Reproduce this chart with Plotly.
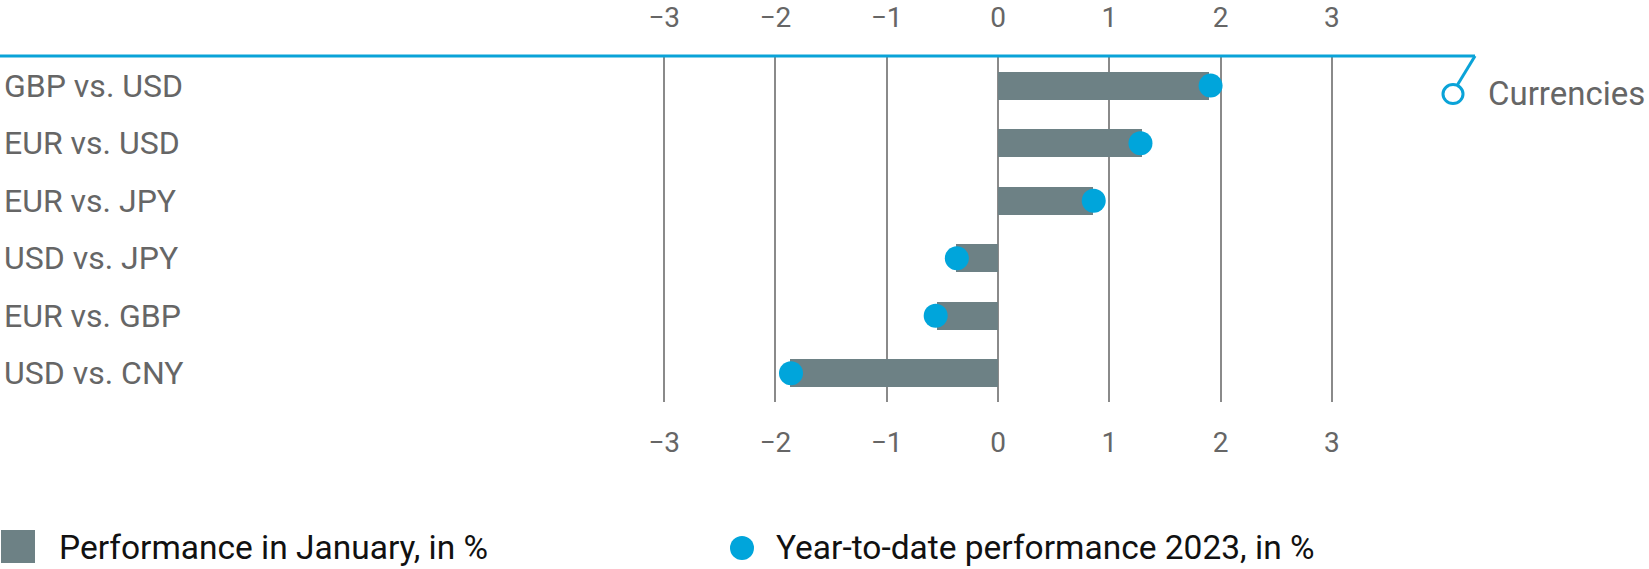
import plotly.graph_objects as go

# ---------------------------------------------------------------------------
# Data
# ---------------------------------------------------------------------------
pairs = ["GBP vs. USD", "EUR vs. USD", "EUR vs. JPY", "USD vs. JPY", "EUR vs. GBP", "USD vs. CNY"]
perf_january = [1.90, 1.29, 0.85, -0.38, -0.55, -1.87]
perf_ytd = [1.91, 1.28, 0.86, -0.37, -0.56, -1.86]
tick_vals = [-3, -2, -1, 0, 1, 2, 3]
tick_text = ["\u22123", "\u22122", "\u22121", "0", "1", "2", "3"]

BAR_COLOR = "#6d8185"
DOT_COLOR = "#00a5db"
LINE_COLOR = "#0aa3d8"
GRID_COLOR = "#8a8a8a"
TEXT_GRAY = "#666666"
FONT = "Roboto"

W, H = 1649, 569
PLOT_TOP, PLOT_BOTTOM = 56, 402
X_RANGE = [-8.967, 5.849]
Y_RANGE = [5.5, -0.515]

fig = go.Figure()

fig.add_trace(go.Bar(
    x=perf_january, y=pairs, orientation="h",
    width=0.487, marker=dict(color=BAR_COLOR, line=dict(width=0)),
    name="Performance in January, in %", showlegend=False,
))
fig.add_trace(go.Scatter(
    x=perf_ytd, y=pairs, mode="markers",
    marker=dict(color=DOT_COLOR, size=24, line=dict(width=0)),
    name="Year-to-date performance 2023, in %", showlegend=False,
))
# invisible trace to activate the top axis
fig.add_trace(go.Scatter(x=[0], y=[pairs[0]], xaxis="x2", mode="markers",
                         marker=dict(opacity=0), showlegend=False, hoverinfo="skip"))

axis_common = dict(
    range=X_RANGE, tickvals=tick_vals, ticktext=tick_text,
    zeroline=False, showline=False, ticks="",
    tickfont=dict(family=FONT, size=28, color=TEXT_GRAY),
)

fig.update_layout(
    width=W, height=H,
    margin=dict(l=0, r=0, t=PLOT_TOP, b=H - PLOT_BOTTOM),
    paper_bgcolor="white", plot_bgcolor="white",
    font=dict(family=FONT, color=TEXT_GRAY),
    xaxis=dict(**axis_common, side="bottom", ticklabelstandoff=21,
               showgrid=True, gridcolor=GRID_COLOR, gridwidth=1.5),
    xaxis2=dict(**axis_common, side="top", overlaying="x", matches="x",
                ticklabelstandoff=22, showgrid=False),
    yaxis=dict(type="category", categoryarray=pairs, range=Y_RANGE,
               showgrid=False, zeroline=False, showline=False, ticks="",
               ticklabelposition="inside", ticklabelstandoff=1,
               tickfont=dict(family=FONT, size=32, color=TEXT_GRAY)),
    showlegend=False,
    bargap=0,
)

# blue header line with the "Currencies" hook
x_end = 4.286
fig.add_shape(type="line", xref="x", yref="paper", x0=X_RANGE[0], x1=x_end, y0=1, y1=1,
              line=dict(color=LINE_COLOR, width=3))
fig.add_shape(type="line", xref="x", yref="y", x0=x_end, y0=-0.515, x1=4.13, y1=-0.02,
              line=dict(color=LINE_COLOR, width=3))
fig.add_shape(type="circle", xref="x", yref="y", x0=4.088 - 0.09, x1=4.088 + 0.09,
              y0=0.146 - 0.165, y1=0.146 + 0.165,
              line=dict(color=LINE_COLOR, width=3), fillcolor="white")
fig.add_annotation(text="Currencies", xref="paper", yref="y", x=1486 / W, y=0.13,
                   xanchor="left", yanchor="middle", showarrow=False,
                   font=dict(family=FONT, size=33, color=TEXT_GRAY))

# manual legend at the bottom
def py(p):
    return (PLOT_BOTTOM - p) / (PLOT_BOTTOM - PLOT_TOP)

fig.add_shape(type="rect", xref="paper", yref="paper",
              x0=1 / W, x1=35 / W, y0=py(563), y1=py(530),
              fillcolor=BAR_COLOR, line=dict(width=0))
fig.add_annotation(text="Performance in January, in %", xref="paper", yref="paper",
                   x=57 / W, y=py(547), xanchor="left", yanchor="middle", showarrow=False,
                   font=dict(family=FONT, size=33.5, color="#111111"))
fig.add_shape(type="circle", xref="paper", yref="paper",
              x0=730 / W, x1=754 / W, y0=py(560), y1=py(536),
              fillcolor=DOT_COLOR, line=dict(width=0))
fig.add_annotation(text="Year-to-date performance 2023, in %", xref="paper", yref="paper",
                   x=774 / W, y=py(547), xanchor="left", yanchor="middle", showarrow=False,
                   font=dict(family=FONT, size=33.5, color="#111111"))

# the page body has a default 8px margin; drop it so the figure sits at the origin
fig.write_html("out.html", config={"displayModeBar": False},
               post_script="document.body.style.margin='0px';")
